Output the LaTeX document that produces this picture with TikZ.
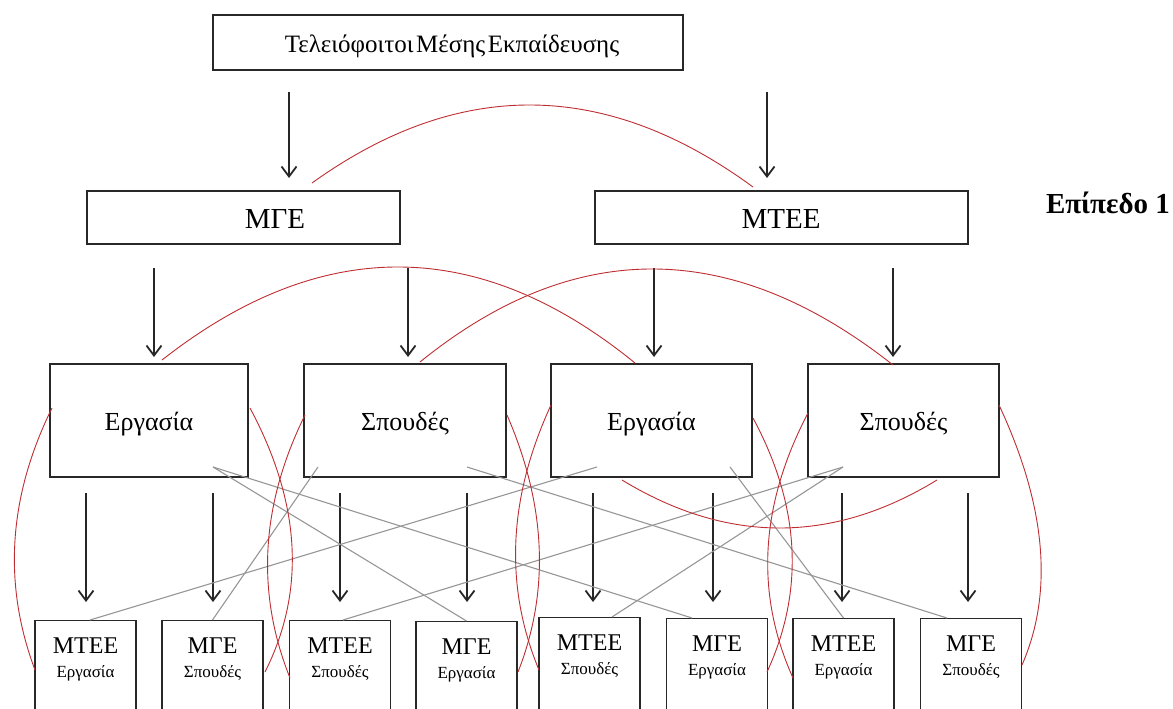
\documentclass[tikz,border=0pt]{standalone}
\usepackage{fontspec}
\setmainfont{Liberation Serif}
\newfontfamily\topfont[WordSpace=0.4]{Liberation Serif}
\usetikzlibrary{arrows.meta}
\definecolor{arcred}{RGB}{190,45,50}
\definecolor{boxline}{RGB}{40,40,40}
\definecolor{crossgray}{RGB}{150,150,150}
\tikzset{
  box/.style={draw=boxline, line width=1.3pt, inner sep=0pt, fill=none},
  arr/.style={draw=black!85, line width=1.8pt, -{Straight Barb[length=10pt,width=15pt]}},
  redarc/.style={draw=arcred, line width=0.9pt},
  grayline/.style={draw=crossgray, line width=1.1pt},
  ttop/.style={font=\topfont\fontsize{25}{30}\selectfont, anchor=base, inner sep=0pt},
  tone/.style={font=\fontsize{29}{32}\selectfont, anchor=base, inner sep=0pt},
  ttwo/.style={font=\fontsize{26}{30}\selectfont, anchor=base, inner sep=0pt},
  tthreeA/.style={font=\fontsize{24}{28}\selectfont, anchor=base, inner sep=0pt},
  tthreeB/.style={font=\fontsize{17}{20}\selectfont, anchor=base, inner sep=0pt},
}
\begin{document}
\begin{tikzpicture}[x=1pt,y=-1pt]
\useasboundingbox (0,0) rectangle (1173,709);
\clip (0,0) rectangle (1173,709);
% ---------- boxes ----------
\node[box, minimum width=470pt, minimum height=55pt] (top) at (448,42.5) {};
\node[ttop] (topT) at (452,53) {Τελειόφοιτοι Μέσης Εκπαίδευσης};
\node[box, minimum width=313pt, minimum height=53pt] (mge) at (243.5,217.5) {};
\node[tone] (mgeT) at (275,228) {ΜΓΕ};
\node[box, minimum width=373pt, minimum height=53pt] (mtee) at (781.5,217.5) {};
\node[tone] (mteeT) at (781,228) {ΜΤΕΕ};
\node[font=\bfseries\fontsize{29}{32}\selectfont, anchor=base east, inner sep=0pt] (lvl) at (1170,213) {Επίπεδο 1};
% level 2
\node[box, minimum width=198pt, minimum height=113pt] (A) at (149,420.5) {};
\node[ttwo] (AT) at (149,430) {Εργασία};
\node[box, minimum width=202pt, minimum height=113pt] (B) at (405,420.5) {};
\node[ttwo] (BT) at (405,430) {Σπουδές};
\node[box, minimum width=201pt, minimum height=113pt] (C) at (651.5,420.5) {};
\node[ttwo] (CT) at (651.5,430) {Εργασία};
\node[box, minimum width=191pt, minimum height=113pt] (D) at (903.5,420.5) {};
\node[ttwo] (DT) at (903.5,430) {Σπουδές};
% level 3
\foreach \n/\x/\t/\a/\b in {1/85.5/620/ΜΤΕΕ/Εργασία, 2/212.5/620/ΜΓΕ/Σπουδές, 3/340/620/ΜΤΕΕ/Σπουδές, 4/466.5/621/ΜΓΕ/Εργασία, 5/589.5/617/ΜΤΕΕ/Σπουδές, 6/717/618/ΜΓΕ/Εργασία, 7/843.5/618/ΜΤΕΕ/Εργασία, 8/971/618/ΜΓΕ/Σπουδές}{
  \node[box, minimum width=101pt, minimum height=130pt, anchor=north] (b\n) at (\x,\t) {};
  \node[tthreeA] (b\n a) at (\x,\t+33) {\a};
  \node[tthreeB] (b\n b) at (\x,\t+57) {\b};
}
% ---------- arrows ----------
\coordinate (t1) at (289,92);  \coordinate (t1e) at (289,178);
\coordinate (t2) at (767,92);  \coordinate (t2e) at (767,178);
\draw[arr] (t1) -- (t1e);
\draw[arr] (t2) -- (t2e);
\foreach \x [count=\i] in {154,408,654,893}{
  \coordinate (m\i) at (\x,268); \coordinate (m\i e) at (\x,357);
  \draw[arr] (m\i) -- (m\i e);
}
\foreach \x [count=\i] in {86,213,340,467,593,713,842,968}{
  \coordinate (l\i) at (\x,493); \coordinate (l\i e) at (\x,602);
  \draw[arr] (l\i) -- (l\i e);
}
% ---------- gray cross lines ----------
\coordinate (gA) at (213,467);
\coordinate (gB1) at (318,467);
\coordinate (gB2) at (467,467);
\coordinate (gC1) at (597,467);
\coordinate (gC2) at (730,467);
\coordinate (gD) at (843,467);
\draw[grayline] (gA) -- (b4.north);
\draw[grayline] (gA) -- (b6.north -| 692,0);
\draw[grayline] (gB1) -- (b2.north);
\draw[grayline] (gB2) -- (b8.north -| 947,0);
\draw[grayline] (gC1) -- (b1.north -| 90,0);
\draw[grayline] (gC2) -- (b7.north);
\draw[grayline] (gD) -- (b3.north -| 343,0);
\draw[grayline] (gD) -- (b5.north -| 612,0);
% ---------- red arcs ----------
\coordinate (r1s) at (312,183); \coordinate (r1e) at (753,187);
\draw[redarc] (r1s) .. controls (458.7,77.7) and (605.7,79) .. (r1e);
\coordinate (r2s) at (162,360); \coordinate (r2e) at (635,363);
\draw[redarc] (r2s) .. controls (321.3,235) and (479,236) .. (r2e);
\coordinate (r3s) at (420,362); \coordinate (r3e) at (893,365);
\draw[redarc] (r3s) .. controls (574.3,237) and (732,238) .. (r3e);
\coordinate (r4s) at (622,480); \coordinate (r4e) at (937,480);
\draw[redarc] (r4s) .. controls (727.3,544) and (832.3,544) .. (r4e);
% side arcs
\coordinate (s1s) at (52,408);  \coordinate (s1e) at (35,670);
\draw[redarc] (s1s) .. controls (8.3,496.7) and (2.7,584) .. (s1e);
\coordinate (s2s) at (250,408); \coordinate (s2e) at (265,672);
\draw[redarc] (s2s) .. controls (300.7,502.7) and (306,590.7) .. (s2e);
\coordinate (s3s) at (305,415); \coordinate (s3e) at (290,678);
\draw[redarc] (s3s) .. controls (260.7,504.7) and (255.7,592.3) .. (s3e);
\coordinate (s4s) at (507,415); \coordinate (s4e) at (518,672);
\draw[redarc] (s4s) .. controls (546,505) and (550,590.7) .. (s4e);
\coordinate (s5s) at (551,405); \coordinate (s5e) at (539,670);
\draw[redarc] (s5s) .. controls (508.7,496.7) and (503.7,585) .. (s5e);
\coordinate (s6s) at (753,418); \coordinate (s6e) at (767,672);
\draw[redarc] (s6s) .. controls (800.7,506.7) and (804.3,591.3) .. (s6e);
\coordinate (s7s) at (808,413); \coordinate (s7e) at (793,678);
\draw[redarc] (s7s) .. controls (760,504.7) and (754.7,593) .. (s7e);
\coordinate (s8s) at (999,405); \coordinate (s8e) at (1022,665);
\draw[redarc] (s8s) .. controls (1045.7,505) and (1054,591.7) .. (s8e);
\end{tikzpicture}
\end{document}
